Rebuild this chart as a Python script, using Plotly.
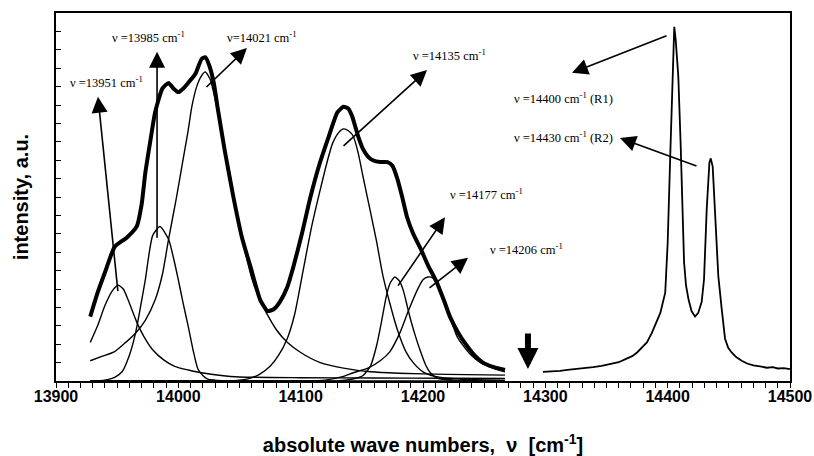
import plotly.graph_objects as go

# ---------------- data ----------------
# measured envelope (thick line)
env_x = [13928, 13934, 13940, 13948, 13958, 13966, 13970, 13973, 13977, 13981, 13987, 13992,
         13996, 14000, 14004, 14008, 14014, 14019, 14022, 14025, 14029, 14032, 14038, 14045,
         14052, 14059, 14067, 14073, 14078, 14083, 14089, 14094, 14101, 14108, 14115, 14122,
         14130, 14135, 14139, 14142, 14147, 14151, 14155, 14159, 14165, 14171, 14175, 14179,
         14183, 14187, 14192, 14198, 14204, 14211, 14217, 14222, 14229, 14236, 14242, 14249,
         14258, 14267]
env_y = [3.5, 4.8, 5.9, 7.3, 7.8, 8.4, 9.6, 11.3, 13.0, 14.6, 15.9, 16.2,
         15.9, 15.7, 15.9, 16.2, 16.7, 17.5, 17.6, 17.2, 16.2, 14.9, 12.5, 10.0,
         7.8, 6.2, 4.4, 3.8, 3.9, 4.3, 5.1, 6.2, 8.0, 10.0, 11.7, 13.1,
         14.6, 14.9, 14.8, 14.4, 13.3, 12.6, 12.2, 12.0, 11.9, 11.9, 11.7, 11.0,
         10.0, 8.9, 8.0, 7.2, 6.3, 5.4, 4.4, 3.5, 2.6, 1.9, 1.4, 1.0,
         0.75, 0.6]

# fitted component bands
c1_x = [13928, 13934, 13940, 13946, 13951, 13955, 13959, 13966, 13972, 13979, 13988, 13997,
        14008, 14019, 14035, 14050, 14100, 14160, 14220, 14267]
c1_y = [2.1, 3.0, 4.1, 4.9, 5.2, 5.0, 4.4, 3.2, 2.4, 1.7, 1.15, 0.8,
        0.6, 0.45, 0.3, 0.22, 0.18, 0.16, 0.15, 0.14]

c2_x = [13928, 13940, 13948, 13954, 13960, 13965, 13969, 13973, 13979, 13985, 13992, 13996,
        14000, 14004, 14008, 14012, 14016, 14020, 14024, 14030, 14040, 14060, 14150, 14267]
c2_y = [0.0, 0.05, 0.2, 0.5, 1.4, 2.6, 4.0, 5.5, 7.9, 8.4, 7.7, 6.7,
        5.5, 4.2, 3.0, 1.7, 0.65, 0.3, 0.1, 0.05, 0.02, 0.0, 0.0, 0.0]

c3_x = [13928, 13938, 13948, 13957, 13965, 13973, 13981, 13987, 13992, 13998, 14003, 14008,
        14011, 14015, 14019, 14022, 14026, 14032, 14038, 14042, 14048, 14054, 14060, 14066,
        14072, 14080, 14089, 14100, 14116, 14135, 14157, 14180, 14220, 14267]
c3_y = [1.1, 1.35, 1.6, 2.1, 2.6, 3.3, 4.4, 5.8, 7.7, 9.8, 11.7, 13.6,
        14.9, 16.0, 16.6, 16.8, 16.4, 14.7, 12.6, 11.3, 9.0, 7.2, 5.6, 4.5,
        3.7, 2.8, 2.1, 1.55, 1.0, 0.7, 0.5, 0.42, 0.36, 0.32]

c4_x = [13928, 14000, 14040, 14056, 14066, 14075, 14082, 14089, 14095, 14102, 14109, 14116,
        14122, 14126, 14131, 14135, 14139, 14143, 14147, 14151, 14157, 14162, 14167, 14173,
        14179, 14186, 14192, 14200, 14210, 14230, 14267]
c4_y = [0.0, 0.0, 0.0, 0.1, 0.35, 0.8, 1.4, 2.3, 3.6, 6.0, 8.4, 10.4,
        12.0, 12.9, 13.5, 13.7, 13.6, 13.3, 12.4, 11.1, 9.2, 7.6, 5.8, 4.2,
        2.8, 1.6, 1.0, 0.5, 0.25, 0.1, 0.05]

c5_x = [13928, 14050, 14130, 14145, 14151, 14157, 14162, 14166, 14170, 14173, 14177, 14181,
        14184, 14187, 14190, 14194, 14198, 14202, 14206, 14212, 14225, 14267]
c5_y = [0.0, 0.0, 0.0, 0.15, 0.3, 0.8, 1.9, 3.2, 4.6, 5.3, 5.65, 5.4,
        4.9, 4.1, 3.3, 2.4, 1.6, 0.9, 0.45, 0.15, 0.05, 0.0]

c6_x = [13928, 14050, 14120, 14135, 14143, 14155, 14165, 14173, 14181, 14188, 14195, 14200,
        14204, 14208, 14211, 14216, 14220, 14228, 14238, 14247, 14257, 14267]
c6_y = [0.0, 0.0, 0.05, 0.25, 0.45, 0.7, 1.1, 1.6, 2.6, 3.8, 4.9, 5.5,
        5.65, 5.6, 5.3, 4.6, 3.9, 2.4, 1.5, 1.0, 0.7, 0.5]

# ruby R1 / R2 reference spectrum
r_x = [14298, 14305, 14312, 14318, 14326, 14332, 14339, 14346, 14353, 14360, 14366, 14371,
       14375, 14379, 14383, 14387, 14390, 14394, 14398, 14400, 14402, 14404, 14405.4, 14406.5,
       14408.7, 14410.6, 14412.3, 14413.4, 14415, 14417, 14419.5, 14422.4, 14425, 14427.8,
       14429.7, 14431.9, 14434.1, 14435.2, 14436.8, 14438.7, 14441.4, 14444.2, 14446.9,
       14449.5, 14452.3, 14456, 14460.5, 14465, 14470, 14475.5, 14481, 14486, 14490, 14495,
       14500]
r_y = [0.5, 0.52, 0.55, 0.6, 0.65, 0.68, 0.75, 0.82, 0.9, 1.02, 1.2, 1.35,
       1.55, 1.8, 2.1, 2.6, 3.1, 3.7, 4.8, 7.5, 12.0, 16.5, 19.25, 18.6,
       16.55, 12.9, 9.3, 6.45, 5.2, 4.45, 3.8, 3.5, 3.7, 4.3,
       5.5, 9.3, 11.85, 12.1, 11.65, 8.95, 5.7, 3.9, 2.3,
       1.8, 1.55, 1.3, 1.1, 0.95, 0.85, 0.8, 0.72, 0.75, 0.68, 0.7,
       0.65]

# band labels, label positions, arrow tails and arrow heads
band_labels = ["ν =13951 cm<sup>-1</sup>", "ν =13985 cm<sup>-1</sup>", "ν=14021 cm<sup>-1</sup>",
               "ν =14135 cm<sup>-1</sup>", "ν =14177 cm<sup>-1</sup>", "ν =14206 cm<sup>-1</sup>",
               "ν =14400 cm<sup>-1</sup> (R1)", "ν =14430 cm<sup>-1</sup> (R2)"]
label_pos = [(13941, 16.26), (13976, 18.7), (14068, 18.7), (14222, 17.72),
             (14252, 10.14), (14285, 7.15), (14315, 15.39), (14315, 13.28)]
arrow_tail = [(13950.7, 4.8), (13982.6, 7.7), (14021.8, 15.9), (14133.8, 12.7),
              (14178.8, 5.1), (14204.1, 5.0), (14400.3, 18.8), (14424.8, 11.65)]
arrow_head = [(13934.3, 15.45), (13982.6, 17.9), (14056.1, 18.1), (14203.3, 16.9),
              (14218.0, 8.9), (14236.8, 6.7), (14321.8, 16.75), (14361.0, 13.2)]

x_ticks = [13900, 14000, 14100, 14200, 14300, 14400, 14500]

# ---------------- figure ----------------
fig = go.Figure()

comp_line = dict(color="black", width=1.4, shape="spline", smoothing=0.6)
for cx, cy in [(c1_x, c1_y), (c2_x, c2_y), (c3_x, c3_y), (c4_x, c4_y), (c5_x, c5_y), (c6_x, c6_y)]:
    fig.add_trace(go.Scatter(x=cx, y=cy, mode="lines", line=comp_line, hoverinfo="skip"))

fig.add_trace(go.Scatter(x=env_x, y=env_y, mode="lines",
                         line=dict(color="black", width=4, shape="spline", smoothing=0.5)))
fig.add_trace(go.Scatter(x=r_x, y=r_y, mode="lines", line=dict(color="black", width=1.8)))

ann_font = dict(family="Liberation Serif, Times New Roman, serif", size=12.5, color="black")
for txt, (lx, ly) in zip(band_labels, label_pos):
    fig.add_annotation(x=lx, y=ly, xref="x", yref="y", text=txt, showarrow=False,
                       font=ann_font)
for (tx, ty), (hx, hy) in zip(arrow_tail, arrow_head):
    fig.add_annotation(x=hx, y=hy, ax=tx, ay=ty, xref="x", yref="y", axref="x", ayref="y",
                       text="", showarrow=True, arrowhead=2, arrowsize=2.0, arrowwidth=1.6,
                       arrowcolor="black")
# thick marker arrow at ~14286 cm-1
fig.add_annotation(x=14285.8, y=0.65, ax=14285.8, ay=2.66, xref="x", yref="y", axref="x",
                   ayref="y", text="", showarrow=True, arrowhead=2, arrowsize=0.7,
                   arrowwidth=6, arrowcolor="black")

fig.update_layout(
    width=814, height=456,
    margin=dict(l=56, r=24, t=13, b=75, autoexpand=False),
    paper_bgcolor="white", plot_bgcolor="white",
    showlegend=False,
    font=dict(family="Liberation Sans, Arial, sans-serif", color="black"),
)
fig.update_xaxes(
    automargin=True,
    range=[13900, 14500], tickvals=x_ticks, ticktext=[str(v) for v in x_ticks],
    ticks="outside", ticklen=5, tickwidth=1, tickcolor="black",
    minor=dict(dtick=10, ticks="outside", ticklen=5, tickwidth=1, tickcolor="black"),
    showline=True, linecolor="black", linewidth=1.5, mirror=True,
    showgrid=False, zeroline=False,
    ticklabelstandoff=-5,
    tickfont=dict(family="Liberation Sans, Arial, sans-serif", size=16, weight="bold"),
    title=dict(text="absolute wave numbers,  ν  [cm<sup>-1</sup>]", standoff=36,
               font=dict(family="Liberation Sans, Arial, sans-serif", size=20, weight="bold")),
)
fig.update_yaxes(
    automargin=True,
    range=[0, 20], dtick=1, ticks="inside", ticklen=5, tickwidth=1, tickcolor="black",
    showticklabels=False,
    showline=True, linecolor="black", linewidth=1.5, mirror=True,
    showgrid=False, zeroline=False,
    title=dict(text="intensity, a.u.", standoff=20,
               font=dict(family="Liberation Sans, Arial, sans-serif", size=20, weight="bold")),
)

# remove the default 8 px page margin so the 814x456 figure fills the window exactly
fig.write_html("out.html", config={"displayModeBar": False},
               post_script="document.body.style.margin='0px';")
